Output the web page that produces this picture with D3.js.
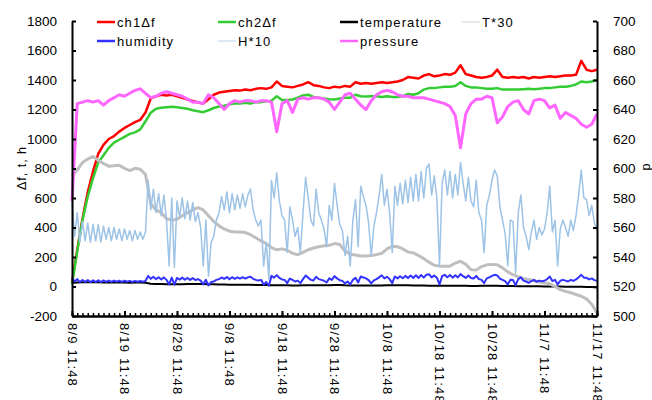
<!DOCTYPE html>
<html>
<head>
<meta charset="utf-8">
<script src="https://cdn.jsdelivr.net/npm/d3@7"></script>
<style>
  body { margin: 0; background: #fff; }
  svg text { font-family: "Liberation Sans", Arial, sans-serif; fill: #000; }
</style>
</head>
<body>
<svg id="chart" width="652" height="400"></svg>
<script>
// x = days since 8/9 11:48 (daily samples; humidity every half day)
const dateLabels = ['8/9 11:48', '8/19 11:48', '8/29 11:48', '9/8 11:48', '9/18 11:48', '9/28 11:48',
  '10/8 11:48', '10/18 11:48', '10/28 11:48', '11/7 11:48', '11/17 11:48'];
const leftTicks = [-200, 0, 200, 400, 600, 800, 1000, 1200, 1400, 1600, 1800];
const rightTicks = [500, 520, 540, 560, 580, 600, 620, 640, 660, 680, 700];

const ch1 = [30, 250, 460, 640, 780, 900, 960, 1000, 1020, 1050,
  1075, 1095, 1115, 1130, 1180, 1275, 1290, 1300, 1295, 1300,
  1290, 1280, 1268, 1258, 1248, 1240, 1270, 1300, 1315, 1320,
  1325, 1330, 1328, 1335, 1330, 1340, 1345, 1340, 1350, 1390,
  1360, 1355, 1350, 1360, 1370, 1385, 1365, 1360, 1350, 1345,
  1355, 1350, 1360, 1355, 1385, 1375, 1380, 1375, 1380, 1385,
  1380, 1385, 1390, 1400, 1420, 1415, 1410, 1430, 1440, 1425,
  1430, 1440, 1435, 1450, 1500, 1440, 1430, 1420, 1415, 1420,
  1430, 1470, 1420, 1415, 1420, 1415, 1420, 1410, 1420, 1415,
  1420, 1425, 1420, 1425, 1430, 1430, 1435, 1530, 1470, 1460,
  1470];

const ch2 = [15, 240, 450, 610, 735, 840, 890, 940, 975, 995,
  1015, 1035, 1045, 1065, 1120, 1178, 1205, 1212, 1215, 1218,
  1215, 1210, 1205, 1195, 1188, 1182, 1195, 1210, 1220, 1225,
  1235, 1240, 1240, 1245, 1240, 1250, 1250, 1255, 1260, 1290,
  1265, 1265, 1268, 1280, 1295, 1300, 1285, 1280, 1275, 1270,
  1268, 1275, 1280, 1280, 1300, 1290, 1288, 1290, 1290, 1285,
  1290, 1285, 1285, 1290, 1305, 1300, 1310, 1335, 1345, 1345,
  1350, 1355, 1355, 1360, 1385, 1360, 1350, 1350, 1345, 1340,
  1340, 1345, 1335, 1335, 1335, 1335, 1338, 1340, 1338, 1340,
  1345, 1345, 1350, 1355, 1355, 1360, 1370, 1390, 1385, 1390,
  1400];

const temperature = [24.9, 26.3, 28.0, 28.8, 29.4, 28.5, 27.8, 27.2, 27.3, 27.4,
  26.7, 26.2, 26.7, 26.5, 25.3, 18.7, 17.3, 16.7, 15.3, 15.0,
  15.2, 16.0, 16.7, 17.3, 17.8, 17.3, 16.0, 14.7, 13.7, 13.0,
  12.5, 12.3, 12.3, 12.2, 11.7, 11.0, 10.3, 9.7, 8.8, 8.3,
  8.5, 8.2, 7.5, 7.2, 7.7, 8.3, 8.7, 9.0, 9.2, 9.3,
  9.7, 9.5, 8.0, 7.3, 7.1, 6.9, 6.9, 7.0, 7.2, 7.5,
  8.5, 9.1, 9.0, 8.5, 7.8, 7.6, 7.0, 6.3, 5.5, 4.8,
  4.6, 4.6, 4.6, 5.3, 5.7, 5.0, 3.8, 3.7, 4.5, 4.9,
  5.0, 4.9, 4.2, 3.3, 2.7, 2.2, 1.8, 1.6, 1.3, 1.0,
  0.8, 0.6, 0.0, -0.7, -1.1, -1.4, -1.8, -2.2, -2.8, -4.0,
  -6.0];

const humidity = [58, 34, 50, 30, 44, 31, 43, 30, 42, 31, 42, 30, 41, 32, 40, 31, 40, 32, 39, 31,
  39, 32, 38, 31, 38, 32, 37, 32, 37,
  72, 52, 66, 50, 63, 48, 62, 45, 14, 60, 13, 58, 47, 60, 46, 58, 45, 57, 44,
  50, 40, 14, 45, 7, 30, 34, 45, 50, 61, 52, 64, 50, 63, 52, 62, 53, 63, 54, 62,
  66, 52, 45, 41, 45, 14, 30, 5, 72, 60, 77, 58, 48, 45, 23, 54, 45, 34, 40, 23,
  50, 74, 60, 45, 41, 66, 50, 45, 39, 27,
  55, 45, 70, 55, 42, 38, 21, 34, 14, 45, 59, 27, 68, 61, 55, 43, 21, 41, 50, 62,
  76, 55, 66, 50, 23, 68, 55, 70, 56, 72, 57, 74, 58, 76, 58, 78, 60, 80, 83, 62,
  75, 60, 14, 70, 79, 62, 78, 60, 76, 62, 84, 70, 58, 74, 58, 54, 72, 50, 45, 23,
  55, 62, 72, 79, 75, 54, 45, 36, 14, 45, 44, 9, 50, 62,
  40, 34, 25, 37, 45, 32, 40, 35, 39, 50, 68, 37, 45, 14, 39, 45, 40, 34, 45, 38,
  48, 62, 79, 60, 59, 48, 55, 43, 38];

const pressure = [578, 644, 645, 646, 645, 646, 643, 646, 648, 650,
  649, 651, 653, 654, 651, 648, 649, 651, 652, 651,
  650, 649, 647, 645, 645, 644, 650, 648, 644, 640,
  644, 646, 645, 646, 646, 645, 646, 646, 645, 625,
  644, 646, 638, 647, 648, 647, 648, 648, 647, 645,
  640, 645, 650, 651, 647, 643, 640, 646, 650, 652,
  653, 652, 650, 649, 649, 648, 648, 648, 647, 646,
  645, 644, 642, 636, 614, 637, 644, 647, 647, 649,
  648, 631, 635, 642, 645, 646, 640, 637, 646, 647,
  646, 641, 643, 634, 638, 636, 634, 630, 628, 630,
  637];

const svg = d3.select('#chart');

const x = d3.scaleLinear().domain([0, 100]).range([72, 597]);
const yL = d3.scaleLinear().domain([-200, 1800]).range([316, 21]);
const yR = d3.scaleLinear().domain([500, 700]).range([316, 21]);

// Series in Excel order (pressure on secondary axis drawn last)
const series = [
  { name: 'ch1Δf', color: '#ff0000', w: 2.5, vals: ch1, step: 1, y: yL },
  { name: 'ch2Δf', color: '#33cc33', w: 2.5, vals: ch2, step: 1, y: yL },
  { name: 'temperature', color: '#000000', w: 2, vals: temperature, step: 1, y: yL },
  { name: 'T*30', color: '#bfbfbf', w: 3, vals: temperature.map(t => t * 30), step: 1, y: yL, lw: 1.2, lc: '#d9d9d9' },
  { name: 'humidity', color: '#3333ff', w: 2, vals: humidity, step: 0.5, y: yL },
  { name: 'H*10', color: '#9dc3e6', w: 1.5, vals: humidity.map(h => h * 10), step: 0.5, y: yL, lw: 1.2, lc: '#c6dcf0' },
  { name: 'pressure', color: '#ff66ff', w: 3, vals: pressure, step: 1, y: yR }
];

const plot = svg.append('g');
series.forEach(s => {
  const line = d3.line()
    .x((d, i) => x(i * s.step))
    .y(d => s.y(d));
  plot.append('path')
    .datum(s.vals)
    .attr('fill', 'none')
    .attr('stroke', s.color)
    .attr('stroke-width', s.w)
    .attr('stroke-linejoin', 'round')
    .attr('d', line);
});

// Axes
function styleAxis(g) {
  g.select('.domain').attr('stroke', '#000').attr('stroke-width', 2);
  g.selectAll('.tick line').attr('stroke', '#000').attr('stroke-width', 2);
  g.selectAll('text').attr('font-size', 13.5).attr('font-family', '"Liberation Sans", Arial, sans-serif');
}

svg.append('g')
  .attr('transform', 'translate(72,0)')
  .call(d3.axisLeft(yL).tickValues(leftTicks).tickSizeInner(-4).tickSizeOuter(0)
    .tickPadding(15).tickFormat(d => String(d)))
  .call(styleAxis);

svg.append('g')
  .attr('transform', 'translate(597,0)')
  .call(d3.axisRight(yR).tickValues(rightTicks).tickSizeInner(-4).tickSizeOuter(0)
    .tickPadding(16).tickFormat(d => String(d)))
  .call(styleAxis);

// daily minor ticks on the category axis
svg.append('g')
  .attr('transform', 'translate(0,316)')
  .call(d3.axisBottom(x).tickValues(d3.range(0, 101, 1)).tickSizeInner(-3).tickSizeOuter(0).tickFormat(''))
  .call(styleAxis)
  .selectAll('.tick line').attr('stroke-width', 1.5);

const xAxis = svg.append('g')
  .attr('transform', 'translate(0,316)')
  .call(d3.axisBottom(x).tickValues(d3.range(0, 101, 10)).tickSizeInner(-5).tickSizeOuter(0)
    .tickFormat((d, i) => dateLabels[i]))
  .call(styleAxis);
xAxis.selectAll('text')
  .attr('transform', 'rotate(90)')
  .attr('x', 7)
  .attr('y', 0)
  .attr('dy', '0.35em')
  .attr('font-size', 13)
  .style('letter-spacing', '1.2px')
  .style('text-anchor', 'start');

// Axis titles
svg.append('text')
  .attr('transform', 'translate(22,168) rotate(-90)')
  .attr('text-anchor', 'middle')
  .attr('dy', '0.35em')
  .attr('font-size', 12.5)
  .style('letter-spacing', '1px')
  .text('Δf, t, h');

svg.append('text')
  .attr('transform', 'translate(646,167) rotate(-90)')
  .attr('text-anchor', 'middle')
  .attr('dy', '0.35em')
  .attr('font-size', 12.5)
  .text('p');

// Legend (two rows, four columns)
const legendCols = [97, 218, 340, 462];
const legendRows = [22, 41];
const legend = svg.append('g');
series.forEach((s, i) => {
  const lx = legendCols[i % 4];
  const ly = legendRows[Math.floor(i / 4)];
  legend.append('line')
    .attr('x1', lx).attr('x2', lx + 18)
    .attr('y1', ly).attr('y2', ly)
    .attr('stroke', s.lc || s.color)
    .attr('stroke-width', s.lw || 2.5);
  legend.append('text')
    .attr('x', lx + 20)
    .attr('y', ly)
    .attr('dy', '0.35em')
    .attr('font-size', 13)
    .style('letter-spacing', '1.1px')
    .text(s.name);
});
</script>
</body>
</html>
